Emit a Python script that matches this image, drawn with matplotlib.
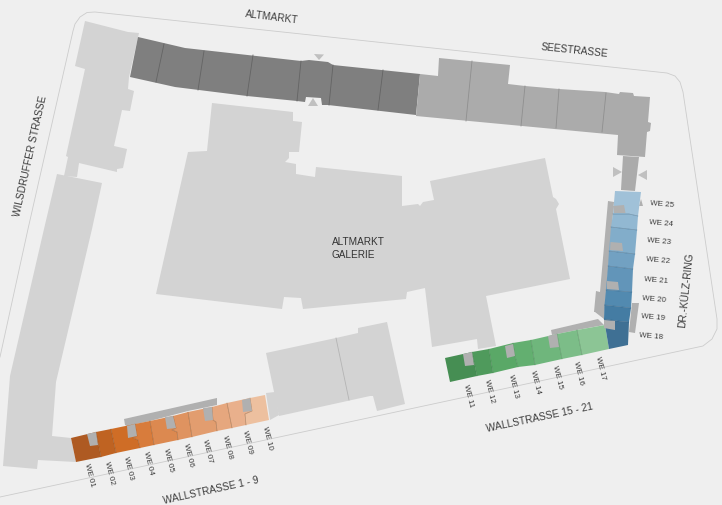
import matplotlib
matplotlib.use("Agg")
import matplotlib.pyplot as plt
from matplotlib.patches import Polygon

plt.rcParams['font.family'] = ['Liberation Sans', 'DejaVu Sans']

BG = '#efefef'
LIGHT = '#d3d3d3'
MID = '#ababab'
DARK = '#7f7f7f'
NOTCH = '#b0b0b0'
TEXT = '#3c3c3c'

road = [(0,358),(28,230),(73,32),(75,25),(80,18),(87,13.5),(95,13),(667,74),(675,77),(680,83),(683,93),
        (717,320),(717,330),(712,340),(703,347),(0,498)]

wing_upper = [(85,22),(128,33),(139,34),(129,78),(128,90),(134,92),(130,112),(122,111),(114,147),(127,150),
              (123,169),(117,170),(117,173),(79,164),(77,178),(64,177),(68,158),(66,157),(85,70),(75,67)]
wing_lower = [(57,175),(102,184),(92,230),(56,383),(52,437),(71,439),(76,463),(38,461),(37,470),(3,467),(10,377),(44,230)]
galerie = [(212,104),(293,113),(293,122),(302,123),(299,153),(289,153),(289,159),(285,163),(296,165),(296,175),
           (315,178),(316,168),(402,177),(402,207),(418,205),(420,207),(423,203),(434,201),(430,182),(545,159),
           (553,198),(556,200),(559,205),(556,210),(570,280),(486,297),(496,347),(478,350),(477,340),(432,348),
           (425,289),(407,293),(406,300),(303,310),(301,299),(284,298),(282,310),(156,295),(188,153),(207,152)]
block_south = [(266,354),(336,339),(358,334),(358,329),(387,323),(405,405),(377,412),(373,397),(370,397),(279,417)]
connector = [(266,394),(275,393),(279,416),(270,421)]
south_divider = [(336,339),(349,401)]

north_dark = [(138,38),(185,49),(301,62),(309,61),(328,63),(333,66),(420,75),(416,116),(328,106),(322,106),(321,99),
              (306,98),(305,103),(297,102),(247,97),(175,88),(130,78)]
dark_dividers = [[(164,45),(156,83)],[(204,52),(198,91)],[(253,56),(247,97)],[(301,62),(297,102)],
                 [(333,66),(329,106)],[(383,71),(378,111)]]
north_mid = [(420,75),(438,77),(439,59),(510,66),(508,85),(525,87),(559,90),(605,93),(619,95),(620,93),(633,94),(634,97),
             (650,98),(648,123),(651,124),(650,132),(647,133),(645,158),(617,156),(618,136),(416,117)]
mid_dividers = [[(472,62),(466,122)],[(525,87),(521,127)],[(559,90),(556,129)],[(606,94),(602,133)]]
neck = [(623,157),(639,158),(635,192),(621,191)]
arrows = [[(314,55),(324,55.5),(319,61)],[(308,107),(318,107),(313,99)],
          [(613,168),(613,178),(622,173)],[(647,171),(647,181),(638,176)]]

orange_labels = ['WE 01','WE 02','WE 03','WE 04','WE 05','WE 06','WE 07','WE 08','WE 09','WE 10']
orange_colors = ['#ae5a22','#bf6322','#cf6d26','#d87c3c','#dc8950','#df9360','#e29d6f','#e6a77e','#e9b08c','#edc09f']
orange_bounds = [[(71,439),(76,463)],[(96,433),(101,458)],[(111,430),(116,454)],
                 [(135,425),(137,437),(133,439),(138,441),(140,449)],[(150,422),(154,446)],
                 [(173,417),(176,429),(172,431),(177,433),(178,441)],[(188,413),(192,438)],
                 [(212,408),(213,421),(216,423),(217,432)],[(227,404),(232,429)],
                 [(250,399),(252,412),(245,415),(246,426)],[(265,396),(269,421)]]
orange_pos = [(89,475),(109,473),(128,468),(148,463),(168,460),(188,455),(207,451),(227,447),(247,442),(267,438)]
orange_notches = [[(87,435),(96,433),(98,446),(90,447)],[(127,427),(135,425),(137,437),(128,439)],
                  [(165,418),(173,417),(176,429),(167,430)],[(203,409),(212,408),(213,421),(205,422)],
                  [(242,401),(250,399),(252,412),(243,413)]]
orange_band = [(124,420),(217,399),(217,406),(188,412),(150,422),(127,427),(125,426)]

green_labels = ['WE 11','WE 12','WE 13','WE 14','WE 15','WE 16','WE 17']
green_colors = ['#468e53','#4f9a5c','#5aa867','#63af70','#6fb67c','#7cbd88','#8cc595']
green_bounds = [[(445,359),(450,383)],[(472,353),(477,377)],[(489,350),(493,374)],
                [(513,344),(515,357),(518,368)],[(531,341),(535,366)],[(557,335),(562,360)],
                [(577,331),(582,356)],[(605,326),(609,350)]]
green_pos = [(468,396),(489,391),(513,386),(535,382),(557,377),(578,373),(600,368)]
green_notches = [[(463,355),(472,353),(474,366),(465,367)],[(505,347),(513,345),(515,357),(507,359)],
                 [(548,337),(557,335),(559,348),(550,349)]]
green_band = [(551,331),(598,320),(604,326),(577,331),(557,335),(552,336)]

blue_labels = ['WE 18','WE 19','WE 20','WE 21','WE 22','WE 23','WE 24','WE 25']
blue_colors = ['#3f7094','#447ca3','#528ab0','#6295b9','#72a1c2','#82adca','#92b8d2','#a0c1d8']
blue_bounds = [[(609,350),(628,346)],[(604,320),(618,322),(629,323)],[(604.5,306),(631,309)],
               [(606,291),(632,293)],[(608,267),(633,270)],[(609,252),(635,255)],
               [(611,228),(637,231)],[(613,215),(629,215),(638,217)],[(615,192),(641,193)]]
blue_pos = [(662,337),(664,318),(665,300),(667,281),(669,261),(670,242),(672,224),(673,205)]
blue_pos = [(651,337),(653,318),(654,300),(656,281),(658,261),(659,242),(661,224),(662,205)]
blue_notches = [[(613,207),(624,206),(625.5,214),(614,214)],[(610.5,243),(622,244),(623,252),(610,251)],
                [(607,282),(618,283),(619,291),(607,290)],[(604,321),(615,322),(615,331),(604,329)]]
blue_band = [(608,202),(614,203),(604,320),(595,313),(594,313),(596,292),(600,293)]
blue_side = [(632,304),(639,304),(635,334),(629,333)]
blue_tip = [(641,200),(643,207),(639,207)]

street_names = ['ALTMARKT','SEESTRASSE','WILSDRUFFER STRASSE','DR.-KÜLZ-RING','WALLSTRASSE 1 - 9','WALLSTRASSE 15 - 21']
street_pos = [(272,17),(574,51),(30,156),(686,290),(211,491),(540,418)]
street_rot = [-7,-6,77.5,84,12.5,12]
centre_lines = ['ALTMARKT','GALERIE']
centre_pos = [(332,242),(332,255)]

fig = plt.figure(figsize=(7.22,5.06),dpi=100,facecolor=BG)
ax = fig.add_axes([0,0,1,1])
ax.set_xlim(0,722); ax.set_ylim(506,0); ax.axis('off')

def poly(pts,c,z=2):
    ax.add_patch(Polygon(pts,closed=True,facecolor=c,edgecolor='none',zorder=z))

def divs(lines,c,z=3,lw=0.6):
    for l in lines:
        ax.plot(*zip(*l),color=c,lw=lw,zorder=z)

ax.plot(*zip(*road),color='#cccccc',lw=0.6,zorder=1)
for p in (wing_upper,wing_lower,galerie,block_south,connector):
    poly(p,LIGHT)
divs([south_divider],'#b4b4b4')
poly(north_dark,DARK)
divs(dark_dividers,'#646464')
poly(north_mid,MID)
poly(neck,MID)
divs(mid_dividers,'#8f8f8f')
for a in arrows:
    poly(a,'#c0c0c0',5)

def units(bounds,colors,edge):
    for i,c in enumerate(colors):
        poly(list(bounds[i])+list(bounds[i+1])[::-1],c,3)
    for b in bounds[1:-1]:
        ax.plot(*zip(*b),color=edge,lw=0.5,alpha=0.45,zorder=4)

units(orange_bounds,orange_colors,'#6e3a10')
units(green_bounds,green_colors,'#2e6a3a')
units(blue_bounds,blue_colors,'#234f70')
for p in [orange_band,green_band,blue_band,blue_side,blue_tip]:
    poly(p,NOTCH,2.5)
for p in orange_notches+green_notches+blue_notches:
    poly(p,NOTCH,5)

lab = dict(fontsize=5.8,color=TEXT,ha='center',va='center',rotation_mode='anchor',zorder=6)
for t,(x,y) in zip(orange_labels+green_labels,orange_pos+green_pos):
    ax.text(x,y,t,rotation=-76,**lab)
for t,(x,y) in zip(blue_labels,blue_pos):
    ax.text(x,y,t,rotation=-5,**lab)
for t,(x,y),r in zip(street_names,street_pos,street_rot):
    ax.text(x,y,t,rotation=r,fontsize=7.3,color=TEXT,ha='center',va='center',rotation_mode='anchor',zorder=6)
for t,(x,y) in zip(centre_lines,centre_pos):
    ax.text(x,y,t,fontsize=7.2,color='#333333',ha='left',va='center',zorder=6)

fig.savefig('out.png',dpi=100,facecolor=BG)
